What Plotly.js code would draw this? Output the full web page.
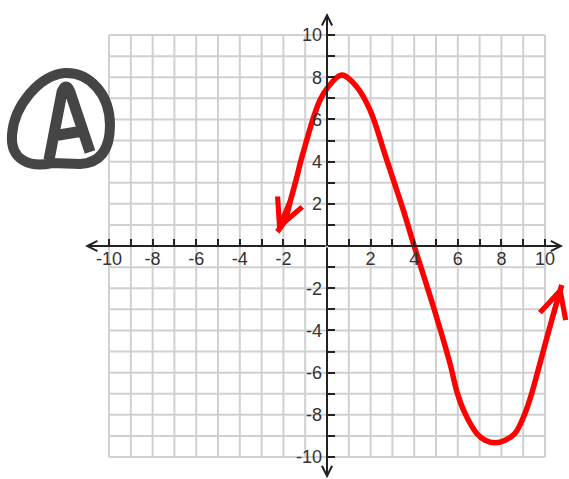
<!DOCTYPE html>
<html><head><meta charset="utf-8">
<script src="https://cdn.plot.ly/plotly-3.0.1.min.js"></script>
<style>html,body{margin:0;padding:0;background:#fff}#chart{width:569px;height:479px}</style>
</head><body><div id="chart"></div>
<script>
// Curve points
const curveX = [-2.28, -1.93, -1.67, -1.42, -1.19, -0.93, -0.66, -0.32, 0.00, 0.67, 1.36, 1.97, 2.74, 3.50, 4.00, 4.88, 5.64, 5.98, 6.33, 6.87, 7.25, 7.71, 8.17, 8.62, 9.08, 9.39, 9.77, 10.31, 10.77];
const curveY = [0.68, 1.23, 2.18, 3.13, 4.08, 5.02, 5.97, 6.92, 7.47, 8.10, 7.55, 6.45, 4.08, 1.70, 0.00, -2.88, -5.56, -6.98, -7.93, -8.88, -9.20, -9.32, -9.20, -8.88, -7.93, -6.98, -5.55, -3.50, -1.85];

const gridValues = [-10,-9,-8,-7,-6,-5,-4,-3,-2,-1,0,1,2,3,4,5,6,7,8,9,10];
const xTickValues = [-10,-9,-8,-7,-6,-5,-4,-3,-2,-1,0,1,2,3,4,5,6,7,8,9,10];
const xTickLabels = ['-10','','-8','','-6','','-4','','-2','','','','2','','4','','6','','8','','10'];
const yTickValues = [-10,-9,-8,-7,-6,-5,-4,-3,-2,-1,0,1,2,3,4,5,6,7,8,9,10];
const yTickLabels = ['-10','','-8','','-6','','-4','','-2','','','','2','','4','','6','','8','','10'];

const W = 569, H = 479;
const gridMin = gridValues[0], gridMax = gridValues[gridValues.length-1];

const shapes = [];
gridValues.forEach(v => {
  shapes.push({type:'line', xref:'x', yref:'y', x0:v, x1:v, y0:gridMin, y1:gridMax, line:{color:'#d0d0d0', width:2}, layer:'below'});
  shapes.push({type:'line', xref:'x', yref:'y', x0:gridMin, x1:gridMax, y0:v, y1:v, line:{color:'#d0d0d0', width:2}, layer:'below'});
});

// Circled "A" decoration (paper coordinates)
function P(px, py){ return (px/W).toFixed(4) + ',' + (1 - py/H).toFixed(4); }
const loopPath = 'M' + P(52,163) + ' C' + P(30,168) + ' ' + P(10,160) + ' ' + P(12,135) +
  ' C' + P(14,105) + ' ' + P(40,75) + ' ' + P(65,73) +
  ' C' + P(90,72) + ' ' + P(110,95) + ' ' + P(110,125) +
  ' C' + P(110,150) + ' ' + P(100,163) + ' ' + P(80,164) + ' Z';
const aPath = 'M' + P(49,160) + ' L' + P(62,92) + ' Q' + P(66,82) + ' ' + P(70,92) + ' L' + P(90,152) + ' M' + P(53,136) + ' L' + P(83,131);
shapes.push({type:'path', xref:'paper', yref:'paper', path:loopPath, line:{color:'#454545', width:10}});
shapes.push({type:'path', xref:'paper', yref:'paper', path:aPath, line:{color:'#454545', width:11}});

const axisColor = '#222';
function axisArrow(x, y){
  return {x:x, y:y, ax:0, ay:0, xref:'x', yref:'y', axref:'x', ayref:'y', text:'', showarrow:true,
    arrowhead:5, arrowsize:1, arrowwidth:2, arrowcolor:axisColor};
}
const n = curveX.length;
function curveArrow(i, j){
  return {x:curveX[i], y:curveY[i], ax:curveX[j], ay:curveY[j], xref:'x', yref:'y', axref:'x', ayref:'y',
    text:'', showarrow:true, arrowhead:5, arrowsize:1.05, arrowwidth:5, arrowcolor:'#ff0000'};
}

const annotations = [
  axisArrow(-11.1, 0), axisArrow(10.83, 0), axisArrow(0, 11.04), axisArrow(0, -11.0),
  curveArrow(0, 2), curveArrow(n-1, n-2)
];

const trace = {
  x: curveX, y: curveY, type:'scatter', mode:'lines',
  line:{color:'#ff0000', width:5.5, shape:'spline', smoothing:1},
  hoverinfo:'skip', showlegend:false
};

const tickFont = {family:'"Liberation Sans", Arial, sans-serif', size:18, color:'#333'};
const layout = {
  width:W, height:H, margin:{l:0,r:0,t:0,b:0},
  paper_bgcolor:'#fff', plot_bgcolor:'#fff', showlegend:false,
  xaxis:{range:[-15.0, 11.1], anchor:'free', position:1-246/H, side:'bottom',
    showgrid:false, zeroline:false, showline:false,
    tickmode:'array', tickvals:xTickValues, ticktext:xTickLabels,
    ticks:'inside', ticklen:7, tickwidth:2, tickcolor:axisColor, tickfont:tickFont, fixedrange:true},
  yaxis:{range:[-11.04, 11.66], anchor:'free', position:327/W, side:'left',
    showgrid:false, zeroline:false, showline:false,
    tickmode:'array', tickvals:yTickValues, ticktext:yTickLabels.map(t => t ? t + '\u00a0' : t),
    ticks:'inside', ticklen:7, tickwidth:2, tickcolor:axisColor, tickfont:tickFont, fixedrange:true},
  shapes:shapes, annotations:annotations
};
Plotly.newPlot('chart', [trace], layout, {displayModeBar:false, staticPlot:true});
</script></body></html>
